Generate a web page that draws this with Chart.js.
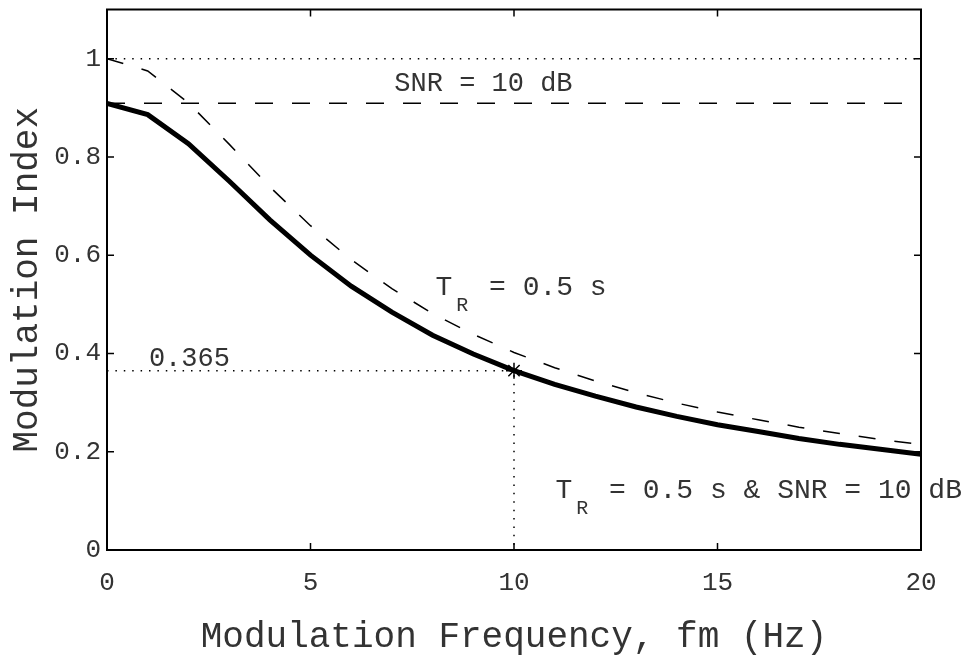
<!DOCTYPE html>
<html>
<head>
<meta charset="utf-8">
<script src="https://cdn.jsdelivr.net/npm/chart.js@4/dist/chart.umd.min.js"></script>
<style>
  html, body { margin: 0; padding: 0; background: #fff; }
  #wrap { width: 963px; height: 660px; }
</style>
</head>
<body>
<div id="wrap"><canvas id="mtfChart"></canvas></div>
<script>
"use strict";

// modulation frequency (Hz)
const freq = [0, 1, 2, 3, 4, 5, 6, 7, 8, 9, 10, 11, 12, 13, 14, 15, 16, 17, 18, 19, 20];
// T_R = 0.5 s only (thin dashed)
const reverbIndex = [1.000, 0.975, 0.910, 0.826, 0.739, 0.660, 0.591, 0.532, 0.481, 0.439, 0.402,
                     0.371, 0.344, 0.320, 0.299, 0.281, 0.265, 0.250, 0.237, 0.225, 0.215];
// T_R = 0.5 s & SNR = 10 dB (thick solid)
const combinedIndex = [0.909, 0.886, 0.827, 0.751, 0.672, 0.600, 0.537, 0.484, 0.437, 0.399, 0.365,
                       0.337, 0.313, 0.291, 0.272, 0.255, 0.241, 0.227, 0.215, 0.205, 0.195];
const unityLevel = 1;      // dotted line
const snrLevel = 0.909;    // dashed line, SNR = 10 dB
const markFreq = 10;
const markIndex = 0.365;
const xTicks = [0, 5, 10, 15, 20];
const yTicks = [0, 0.2, 0.4, 0.6, 0.8, 1];

const FONT = "'Liberation Mono', 'DejaVu Sans Mono', monospace";
const INK = "#000";
const TEXT = "#333";

const pts = (xs, ys) => xs.map((x, i) => ({ x: x, y: ys[i] }));

// text labels placed in data coordinates
const notes = [
  { x: 7.06, y: 0.935, size: 27, main: "SNR = 10 dB" },
  { x: 8.07, y: 0.519, size: 28, main: "T", sub: "R", rest: " = 0.5 s" },
  { x: 11.02, y: 0.105, size: 28, main: "T", sub: "R", rest: " = 0.5 s & SNR = 10 dB" },
  { x: 1.03, y: 0.375, size: 27, main: "0.365" }
];

const frameAndTicks = {
  id: "frameAndTicks",
  afterDraw(chart) {
    const ctx = chart.ctx;
    const a = chart.chartArea;
    const xs = chart.scales.x, ys = chart.scales.y;
    const len = 7;
    ctx.save();
    ctx.strokeStyle = INK;
    ctx.lineWidth = 2;
    ctx.strokeRect(a.left, a.top, a.right - a.left, a.bottom - a.top);
    ctx.lineWidth = 1.5;
    ctx.beginPath();
    xs.ticks.forEach(t => {
      const px = xs.getPixelForValue(t.value);
      ctx.moveTo(px, a.bottom); ctx.lineTo(px, a.bottom - len);
      ctx.moveTo(px, a.top); ctx.lineTo(px, a.top + len);
    });
    ys.ticks.forEach(t => {
      const py = ys.getPixelForValue(t.value);
      ctx.moveTo(a.left, py); ctx.lineTo(a.left + len, py);
      ctx.moveTo(a.right, py); ctx.lineTo(a.right - len, py);
    });
    ctx.stroke();

    // annotations
    ctx.fillStyle = TEXT;
    ctx.textBaseline = "alphabetic";
    ctx.textAlign = "left";
    notes.forEach(n => {
      let px = xs.getPixelForValue(n.x);
      const py = ys.getPixelForValue(n.y);
      ctx.font = n.size + "px " + FONT;
      ctx.fillText(n.main, px, py);
      px += ctx.measureText(n.main).width;
      if (n.sub) {
        ctx.font = "20px " + FONT;
        ctx.fillText(n.sub, px + 4, py + 16);
        px += ctx.measureText(n.sub).width + 8;
        ctx.font = n.size + "px " + FONT;
        ctx.fillText(n.rest, px, py);
      }
    });
    ctx.restore();
  }
};

const ctxM = document.getElementById("mtfChart").getContext("2d");
const mtfChart = new Chart(ctxM, {
  type: "line",
  data: {
    datasets: [
      {
        label: "T_R = 0.5 s & SNR = 10 dB",
        data: pts(freq, combinedIndex),
        borderColor: INK,
        borderWidth: 5,
        pointRadius: 0,
        tension: 0
      },
      {
        label: "T_R = 0.5 s",
        data: pts(freq, reverbIndex),
        borderColor: INK,
        borderWidth: 1.5,
        borderDash: [17, 19],
        pointRadius: 0,
        tension: 0
      },
      {
        label: "unity",
        data: [{ x: freq[0], y: unityLevel }, { x: freq[freq.length - 1], y: unityLevel }],
        borderColor: INK,
        borderWidth: 1.5,
        borderDash: [1.5, 6.9],
        pointRadius: 0
      },
      {
        label: "SNR = 10 dB",
        data: [{ x: freq[0], y: snrLevel }, { x: freq[freq.length - 1], y: snrLevel }],
        borderColor: INK,
        borderWidth: 1.5,
        borderDash: [18, 19],
        pointRadius: 0
      },
      {
        label: "guide",
        data: [{ x: freq[0], y: markIndex }, { x: markFreq, y: markIndex }, { x: markFreq, y: 0 }],
        borderColor: INK,
        borderWidth: 1.5,
        borderDash: [1.5, 6.9],
        pointRadius: 0
      },
      {
        label: "mark",
        data: [{ x: markFreq, y: markIndex }],
        showLine: false,
        pointStyle: "star",
        pointRadius: 8,
        borderColor: INK,
        borderWidth: 1.5
      }
    ]
  },
  options: {
    responsive: true,
    maintainAspectRatio: false,
    animation: false,
    layout: { padding: { top: 5, right: 42, left: 0, bottom: 0 } },
    plugins: {
      legend: { display: false },
      tooltip: { enabled: false }
    },
    scales: {
      x: {
        type: "linear",
        min: 0,
        max: 20,
        afterBuildTicks: s => { s.ticks = xTicks.map(v => ({ value: v })); },
        afterFit: s => { s.height = 110; s.paddingLeft = 0; s.paddingRight = 0; },
        grid: { display: false, drawTicks: false },
        border: { display: false },
        ticks: {
          color: TEXT,
          padding: 18,
          maxRotation: 0,
          font: { family: FONT, size: 26 },
          callback: v => String(v)
        },
        title: {
          display: true,
          text: "Modulation Frequency, fm (Hz)",
          color: TEXT,
          font: { family: FONT, size: 36 },
          padding: { top: 0, bottom: 1 }
        }
      },
      y: {
        min: 0,
        max: 1.1,
        afterBuildTicks: s => { s.ticks = yTicks.map(v => ({ value: v })); },
        afterFit: s => { s.width = 107; s.paddingTop = 0; s.paddingBottom = 0; },
        grid: { display: false, drawTicks: false },
        border: { display: false },
        ticks: {
          color: TEXT,
          padding: 6,
          font: { family: FONT, size: 26 },
          callback: v => String(v)
        },
        title: {
          display: true,
          text: "Modulation Index",
          color: TEXT,
          font: { family: FONT, size: 36 },
          padding: { top: 6, bottom: 0 }
        }
      }
    }
  },
  plugins: [frameAndTicks]
});
</script>
</body>
</html>
